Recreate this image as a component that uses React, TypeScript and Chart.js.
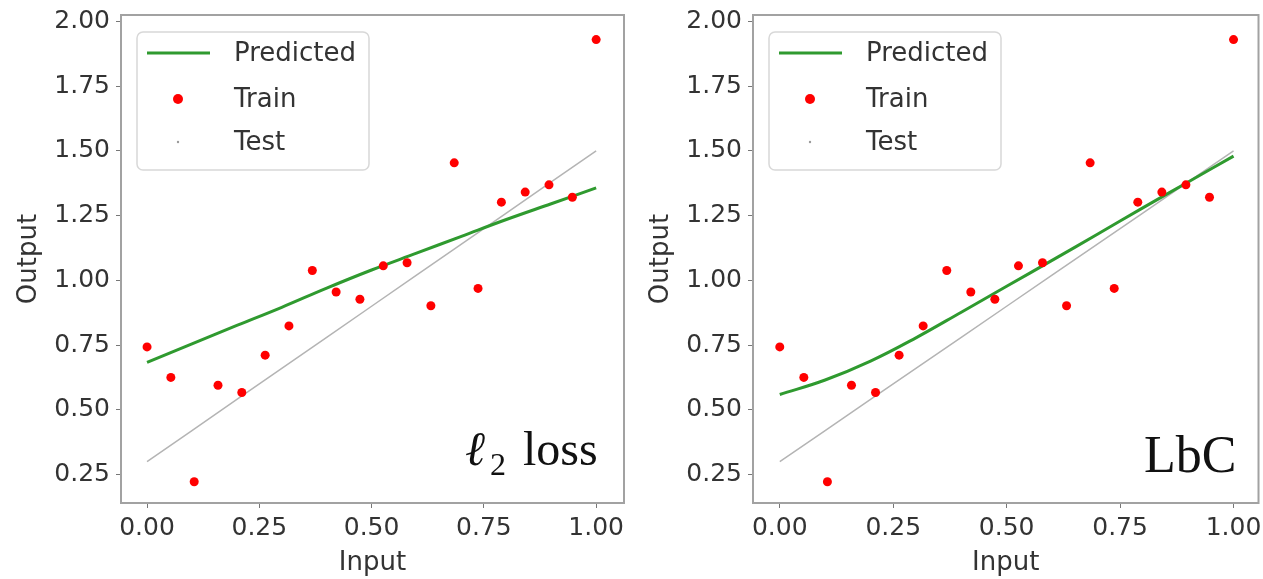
import React, { useEffect, useRef } from "react";
import { Chart, registerables } from "chart.js";

Chart.register(...registerables);

// ---- data ----
const trainX = [0.0, 0.053, 0.105, 0.158, 0.211, 0.263, 0.316, 0.368, 0.421, 0.474, 0.526, 0.579, 0.632, 0.684, 0.737, 0.789, 0.842, 0.895, 0.947, 1.0];
const trainY = [0.743, 0.625, 0.222, 0.595, 0.567, 0.711, 0.824, 1.038, 0.955, 0.927, 1.056, 1.068, 0.902, 1.454, 0.969, 1.302, 1.341, 1.369, 1.321, 1.93];

const curveX = [0.0, 0.1, 0.2, 0.3, 0.4, 0.5, 0.6, 0.7, 0.8, 0.9, 1.0];
const testY = [0.3, 0.42, 0.54, 0.66, 0.78, 0.9, 1.02, 1.14, 1.26, 1.38, 1.5];
const predictedL2 = [0.683, 0.755, 0.826, 0.896, 0.97, 1.04, 1.105, 1.17, 1.235, 1.296, 1.357];
const predictedLbC = [0.559, 0.615, 0.688, 0.778, 0.877, 0.977, 1.077, 1.178, 1.28, 1.38, 1.48];

const xTicks = [0.0, 0.25, 0.5, 0.75, 1.0];
const yTicks = [0.25, 0.5, 0.75, 1.0, 1.25, 1.5, 1.75, 2.0];

const legendLabels = ["Predicted", "Train", "Test"];
const axisLabels = { x: "Input", y: "Output" };

const SANS = '"DejaVu Sans", "Noto Sans", sans-serif';
const SERIF = '"Liberation Serif", "DejaVu Serif", serif';
const TEXT = "#333333";
const GREEN = "#2f9a2f";
const RED = "#ff0000";
const GRAY = "#b4b4b4";

const H = 579;

type Panel = {
  left: number;
  width: number;
  frameLeft: number;
  frameRight: number;
  xMin: number;
  xMax: number;
  predicted: number[];
  note: "l2" | "lbc";
};

const panels: Panel[] = [
  { left: 0, width: 631, frameLeft: 121, frameRight: 624, xMin: -0.058, xMax: 1.062, predicted: predictedL2, note: "l2" },
  { left: 632, width: 631, frameLeft: 121, frameRight: 627, xMin: -0.059, xMax: 1.055, predicted: predictedLbC, note: "lbc" },
];

const frameLegendNotePlugin = {
  id: "frameLegendNote",
  afterDatasetsDraw(chart: any) {
    const ctx = chart.ctx;
    const a = chart.chartArea;
    const note = chart.options.plugins.frameLegendNote.note;
    ctx.save();
    // frame
    ctx.strokeStyle = "#a2a2a2";
    ctx.lineWidth = 2;
    ctx.strokeRect(a.left, a.top, a.right - a.left, a.bottom - a.top);

    // legend box
    const bx = a.left + 16;
    const by = a.top + 17;
    const bw = 232;
    const bh = 138;
    ctx.beginPath();
    ctx.roundRect(bx, by, bw, bh, 6);
    ctx.fillStyle = "rgba(255,255,255,0.85)";
    ctx.fill();
    ctx.strokeStyle = "#d8d8d8";
    ctx.lineWidth = 1.5;
    ctx.stroke();

    const rows = [a.top + 38, a.top + 84, a.top + 127];
    const ds = chart.data.datasets;
    // Predicted line
    ctx.strokeStyle = ds[0].borderColor;
    ctx.lineWidth = ds[0].borderWidth;
    ctx.beginPath();
    ctx.moveTo(a.left + 26, rows[0]);
    ctx.lineTo(a.left + 89, rows[0]);
    ctx.stroke();
    // Train dot
    ctx.fillStyle = ds[1].backgroundColor;
    ctx.beginPath();
    ctx.arc(a.left + 57, rows[1], 5, 0, Math.PI * 2);
    ctx.fill();
    // Test dot
    ctx.fillStyle = "#9a9a9a";
    ctx.beginPath();
    ctx.arc(a.left + 57, rows[2], 1.2, 0, Math.PI * 2);
    ctx.fill();

    ctx.fillStyle = TEXT;
    ctx.font = `26px ${SANS}`;
    ctx.textAlign = "left";
    ctx.textBaseline = "middle";
    legendLabels.forEach((t, i) => ctx.fillText(t, a.left + 113, rows[i] + 1));

    // annotation
    ctx.fillStyle = "#111";
    ctx.textBaseline = "alphabetic";
    if (note === "l2") {
      const base = a.bottom - 38;
      ctx.font = `italic 48px ${SERIF}`;
      ctx.fillText("\u2113", a.right - 159, base);
      ctx.font = `32px ${SERIF}`;
      ctx.fillText("2", a.right - 134, base + 10);
      ctx.font = `48px ${SERIF}`;
      ctx.fillText("loss", a.right - 101, base);
    } else {
      ctx.font = `52px ${SERIF}`;
      ctx.textAlign = "right";
      ctx.fillText("LbC", a.right - 22, a.bottom - 31);
    }
    ctx.restore();
  },
};

function PanelChart({ p }: { p: Panel }) {
  const ref = useRef<HTMLCanvasElement | null>(null);
  useEffect(() => {
    if (!ref.current) return;
    const tickFont = { family: SANS, size: 25 };
    const titleFont = { family: SANS, size: 26 };
    const chart = new Chart(ref.current, {
      type: "scatter",
      data: {
        datasets: [
          {
            label: legendLabels[0],
            data: curveX.map((x, i) => ({ x, y: p.predicted[i] })),
            showLine: true,
            borderColor: GREEN,
            backgroundColor: GREEN,
            borderWidth: 3,
            pointRadius: 0,
            tension: 0.4,
            order: 1,
          },
          {
            label: legendLabels[1],
            data: trainX.map((x, i) => ({ x, y: trainY[i] })),
            showLine: false,
            backgroundColor: RED,
            borderColor: RED,
            borderWidth: 0,
            pointRadius: 4.5,
            order: 0,
          },
          {
            label: legendLabels[2],
            data: curveX.map((x, i) => ({ x, y: testY[i] })),
            showLine: true,
            borderColor: GRAY,
            backgroundColor: GRAY,
            borderWidth: 1.5,
            pointRadius: 0,
            order: 2,
          },
        ],
      },
      options: {
        responsive: false,
        animation: false,
        devicePixelRatio: 1,
        layout: { padding: { left: 0, right: p.width - p.frameRight, top: 15, bottom: 0 } },
        plugins: {
          legend: { display: false },
          tooltip: { enabled: false },
          frameLegendNote: { note: p.note },
        } as any,
        scales: {
          x: {
            type: "linear",
            min: p.xMin,
            max: p.xMax,
            afterBuildTicks: (s: any) => {
              s.ticks = xTicks.map((v) => ({ value: v }));
            },
            afterFit: (s: any) => {
              s.height = H - 503;
              s.paddingLeft = 0;
              s.paddingRight = 0;
            },
            border: { display: false },
            grid: { drawOnChartArea: false, drawTicks: true, tickLength: 5, color: "#777", lineWidth: 1 },
            ticks: {
              font: tickFont,
              color: TEXT,
              padding: 5,
              maxRotation: 0,
              autoSkip: false,
              callback: (v: any) => Number(v).toFixed(2),
            },
            title: { display: true, text: axisLabels.x, font: titleFont, color: TEXT, padding: { top: 0, bottom: 0 } },
          },
          y: {
            type: "linear",
            min: 0.14,
            max: 2.025,
            afterBuildTicks: (s: any) => {
              s.ticks = yTicks.map((v) => ({ value: v }));
            },
            afterFit: (s: any) => {
              s.width = p.frameLeft;
              s.paddingTop = 0;
              s.paddingBottom = 0;
            },
            border: { display: false },
            grid: { drawOnChartArea: false, drawTicks: true, tickLength: 5, color: "#777", lineWidth: 1 },
            ticks: {
              font: tickFont,
              color: TEXT,
              padding: 6,
              autoSkip: false,
              callback: (v: any) => Number(v).toFixed(2),
            },
            title: { display: true, text: axisLabels.y, font: titleFont, color: TEXT, padding: { top: 14, bottom: 0 } },
          },
        },
      } as any,
      plugins: [frameLegendNotePlugin],
    });
    return () => chart.destroy();
  }, [p]);
  return (
    <canvas
      ref={ref}
      width={p.width}
      height={H}
      style={{ position: "absolute", left: p.left, top: 0, width: p.width, height: H }}
    />
  );
}

export default function App() {
  return (
    <div style={{ position: "absolute", left: 0, top: 0, width: 1263, height: H, background: "#fff", overflow: "hidden" }}>
      {panels.map((p, i) => (
        <PanelChart key={i} p={p} />
      ))}
    </div>
  );
}
